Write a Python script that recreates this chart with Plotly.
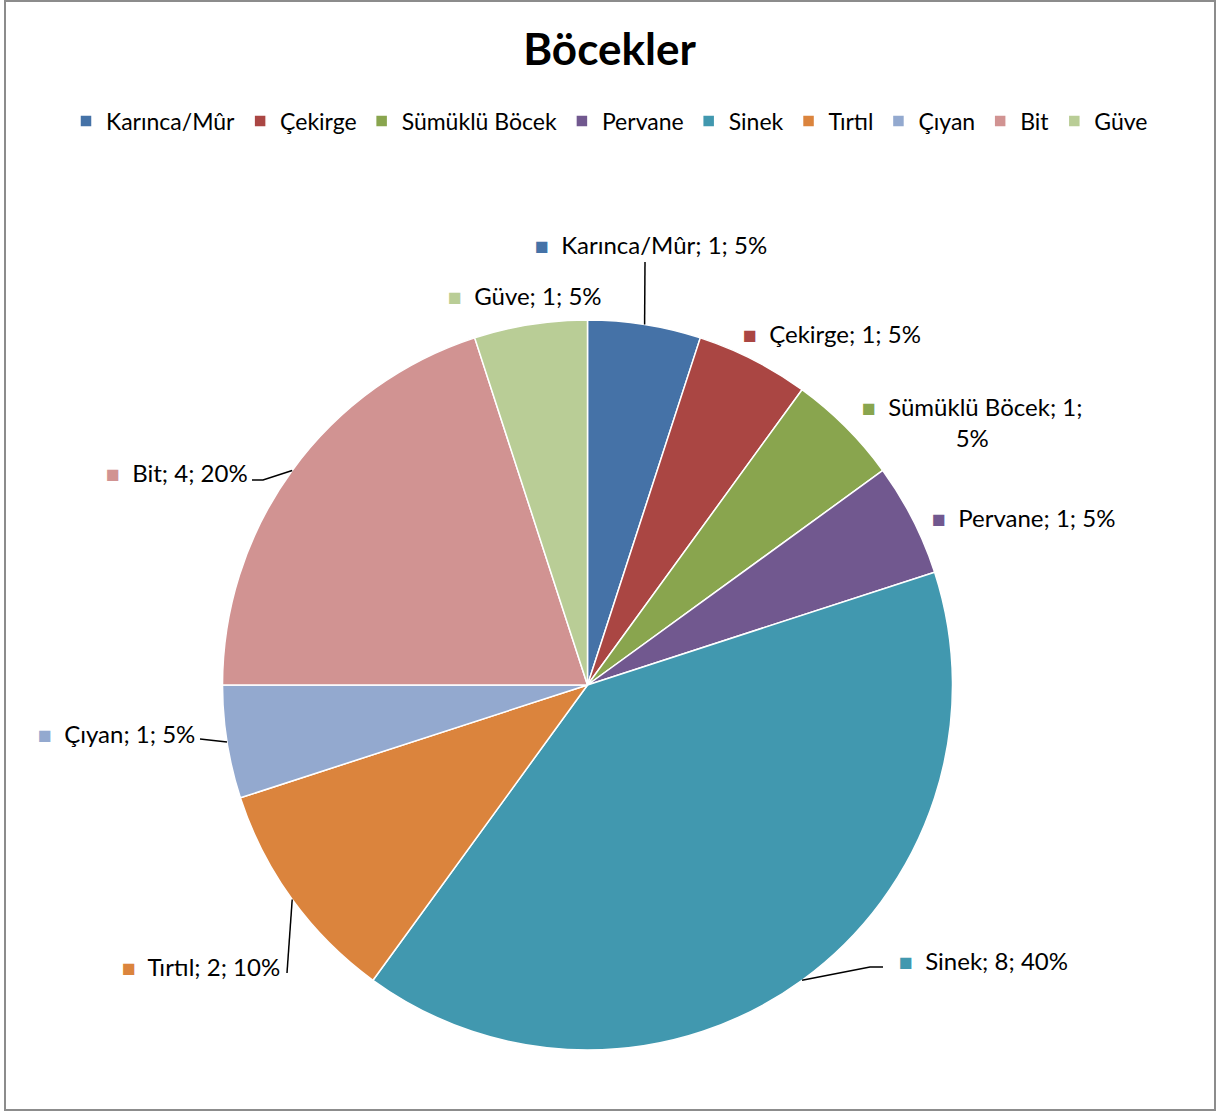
import math
import plotly.graph_objects as go

# ---- data ----
categories = ["Karınca/Mûr", "Çekirge", "Sümüklü Böcek", "Pervane", "Sinek",
              "Tırtıl", "Çıyan", "Bit", "Güve"]
values = [1, 1, 1, 1, 8, 2, 1, 4, 1]
colors = ["#4572A7", "#AA4643", "#89A54E", "#71588F", "#4198AF",
          "#DB843D", "#93A9CF", "#D19392", "#B9CD96"]
title_text = "Böcekler"

# ---- layout constants (pixels) ----
W, H = 1219, 1113
CX, CY, R = 587.5, 685.0, 365.0
FONT = "Lato"
FS = 24

def px(x):
    return x / W

def py(y):
    return 1 - y / H

fig = go.Figure()
fig.add_trace(go.Pie(
    labels=categories,
    values=values,
    sort=False,
    direction="clockwise",
    rotation=0,
    marker=dict(colors=colors, line=dict(color="white", width=1.5)),
    textinfo="none",
    hoverinfo="label+value+percent",
    domain=dict(x=[px(CX - R), px(CX + R)], y=[py(CY + R), py(CY - R)]),
))

total = sum(values)
# label placement (left x of marker, center y) and leader-line elbow points (pixels)
label_pos = [(533, 245), (741, 333), (860, 422), (930, 517), (897, 960),
             (120, 966), (36, 733), (104, 472), (446, 296)]
leader_from = [[(645, 262)], None, None, None, [(883, 967), (870, 967)],
               [(287, 973)], [(200, 739)], [(252, 480), (263, 480)], None]

annotations = []
shapes = []
cum = 0
for i, (cat, v) in enumerate(zip(categories, values)):
    mid = (cum + v / 2) / total * 2 * math.pi
    cum += v
    pct = round(v / total * 100)
    sq = f'<span style="color:{colors[i]};font-size:23px">■</span>  '
    if cat == "Sümüklü Böcek":
        txt = f"{sq}{cat}; {v};<br>{pct}%"
    else:
        txt = f"{sq}{cat}; {v}; {pct}%"
    lx, ly = label_pos[i]
    annotations.append(dict(
        x=px(lx), y=py(ly), xref="paper", yref="paper",
        xanchor="left", yanchor="middle", align="center",
        text=txt, showarrow=False,
        font=dict(family=FONT, size=FS, color="#000000"),
    ))
    if leader_from[i]:
        ex = CX + R * math.sin(mid)
        ey = CY - R * math.cos(mid)
        pts = leader_from[i] + [(ex, ey)]
        path = "M " + " L ".join(f"{px(x):.5f},{py(y):.5f}" for x, y in pts)
        shapes.append(dict(type="path", path=path, xref="paper", yref="paper",
                           line=dict(color="#000000", width=1.5)))

# chart border
shapes.append(dict(type="rect", xref="paper", yref="paper",
                   x0=px(5), x1=px(1215), y0=py(1110), y1=py(1),
                   line=dict(color="#8c8c8c", width=2), fillcolor="rgba(0,0,0,0)",
                   layer="below"))

fig.update_layout(
    width=W, height=H,
    margin=dict(l=0, r=0, t=0, b=0),
    paper_bgcolor="white",
    plot_bgcolor="white",
    title=dict(text=f"<b>{title_text}</b>", x=0.5, xanchor="center",
               y=py(50), yanchor="middle",
               font=dict(family=FONT, size=44, color="#000000")),
    legend=dict(orientation="h", x=0.5, xanchor="center", y=py(121),
                yanchor="middle", font=dict(family=FONT, size=23, color="#000000"),
                traceorder="normal", itemwidth=30),
    annotations=annotations,
    shapes=shapes,
)

fig.write_html("out.html")
